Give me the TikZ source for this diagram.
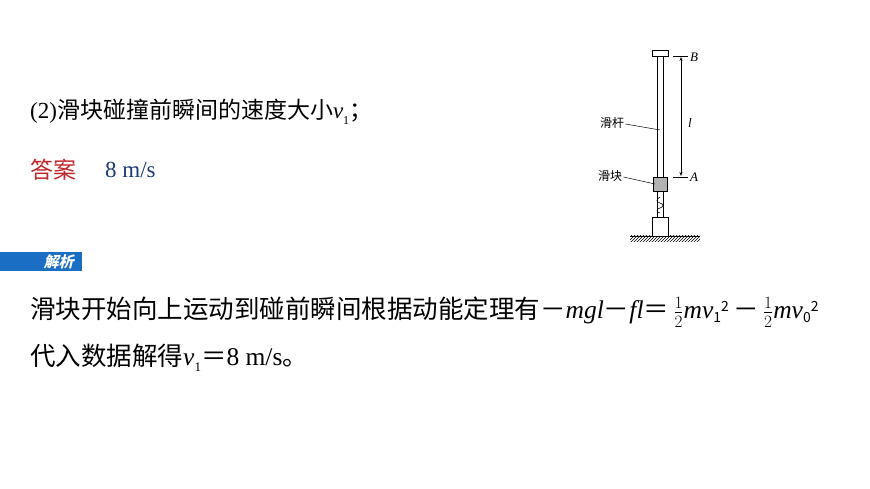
\documentclass[tikz,border=0pt]{standalone}
\usepackage{amsmath}
\usepackage{fontspec}
\setmainfont{Liberation Serif}
\newfontfamily\cjk{Noto Sans CJK SC}
\usetikzlibrary{arrows.meta,patterns}
\definecolor{ansred}{HTML}{C0272D}
\definecolor{ansblue}{HTML}{1F3B73}
\definecolor{barblue}{HTML}{1A6FC4}
\newcommand{\cm}{{\cjk －}}
\newcommand{\ce}{{\cjk ＝}}
\newcommand{\hlf}{\,$\frac{1}{2}$}
\begin{document}
\begin{tikzpicture}[x=1pt,y=-1pt,
  big/.style={anchor=west,inner sep=0pt,font=\fontsize{23}{26}\selectfont},
  body/.style={anchor=west,inner sep=0pt,font=\fontsize{25.5}{28}\selectfont},
  small/.style={inner sep=0pt,font=\fontsize{13}{15}\selectfont},
  part/.style={draw=black,line width=0.7pt,fill=white}]
\useasboundingbox[fill=white] (0,0) rectangle (870,489);
% texts
\node[big] (q) at (30,112) {(2){\cjk 滑块碰撞前瞬间的速度大小}\textit{v}\raisebox{-0.25em}{\fontsize{12}{12}\selectfont 1}{\cjk ；}};
\node[big,text=ansred] (ans) at (30,170) {\cjk 答案};
\node[big,text=ansblue] (val) at (105,170) {8 m/s};
\fill[barblue] (0,252) rectangle (82,271);
\node[inner sep=0pt,text=white,font=\cjk\bfseries\fontsize{15}{16}\selectfont,xslant=0.25] (jx) at (60,261.5) {解析};
\node[body] (l1) at (30,312) {{\cjk 滑块开始向上运动到碰前瞬间根据动能定理有}\cm\textit{mgl}\cm\textit{fl}\ce\hlf\textit{mv}{\cjk\fontsize{14}{14}\selectfont\raisebox{-0.25em}{1}\raisebox{0.5em}{2}}\,\cm\hlf\textit{mv}{\cjk\fontsize{14}{14}\selectfont\raisebox{-0.25em}{0}\raisebox{0.5em}{2}}};
\node[body] (l2) at (30,358) {{\cjk 代入数据解得}\textit{v}\raisebox{-0.25em}{\fontsize{13}{13}\selectfont 1}\ce 8 m/s{\cjk 。}};
% apparatus
\fill[pattern=north east lines] (630,236) rectangle (700,241);
\draw[line width=0.8pt] (630,236) -- (700,236);
\draw[part] (652,217) rectangle (668,236);
\draw[part] (657,191) rectangle (663,217);
\draw[line width=0.6pt] (660,197) .. controls (656,199) and (656,202) .. (660,203) .. controls (664,204) and (664,207) .. (660,208) .. controls (656,209) and (656,212) .. (660,213);
\draw[part] (657,56) rectangle (663,177);
\draw[part] (652,50) rectangle (668,56);
\draw[line width=0.7pt,fill=gray!60] (653,177) rectangle (667,191);
\coordinate (bB) at (673,56); \coordinate (eB) at (688,56);
\coordinate (bA) at (673,177); \coordinate (eA) at (688,177);
\draw[line width=0.6pt] (bB) -- (eB);
\draw[line width=0.6pt] (bA) -- (eA);
\node[small,anchor=west,font=\itshape\fontsize{13}{15}\selectfont] (B) at (690,57) {B};
\node[small,anchor=west,font=\itshape\fontsize{13}{15}\selectfont] (A) at (690,177) {A};
\coordinate (t) at (681,57); \coordinate (b) at (681,176);
\draw[line width=0.6pt,{Stealth[length=4pt]}-{Stealth[length=4pt]}] (t) -- (b);
\node[small,font=\itshape\fontsize{13}{15}\selectfont] (l) at (690,123) {l};
\node[small,anchor=west,font=\cjk\fontsize{12}{14}\selectfont] (gan) at (600,123) {滑杆};
\node[small,anchor=west,font=\cjk\fontsize{12}{14}\selectfont] (kuai) at (598,176) {滑块};
\coordinate (pg) at (660,130); \coordinate (pk) at (655,184);
\draw[line width=0.5pt] (gan.east) ++(1,1) -- (pg);
\draw[line width=0.5pt] (kuai.east) ++(1,1) -- (pk);
\end{tikzpicture}
\end{document}
